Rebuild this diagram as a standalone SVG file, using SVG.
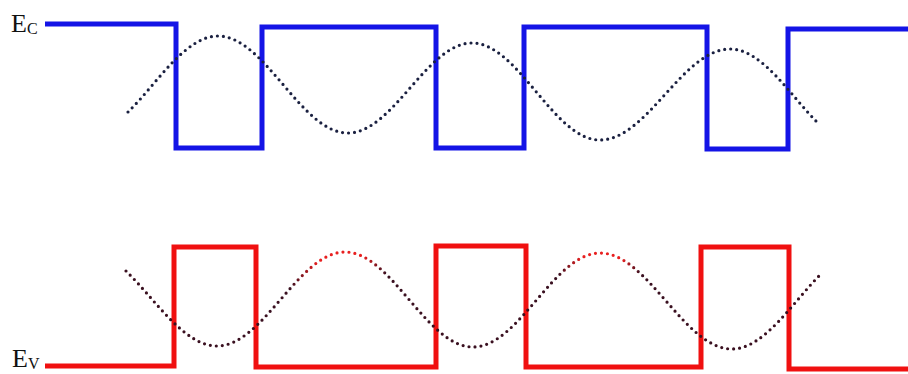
<svg xmlns="http://www.w3.org/2000/svg" width="908" height="374" viewBox="0 0 908 374">
  <style>
    .band { fill: none; stroke-width: 5; stroke-linejoin: miter; stroke-linecap: butt; }
    .cb { stroke: #1414e6; }
    .vb { stroke: #f01010; }
    .dots { fill: none; stroke-width: 3.2; stroke-linecap: round; stroke-dasharray: 0 6; }
    .lbl { font-family: "Liberation Serif", "Times New Roman", serif; fill: #111; }
  </style>
  <defs>
    <linearGradient id="redmix" gradientUnits="userSpaceOnUse" x1="0" y1="0" x2="908" y2="0">
      <stop offset="0" stop-color="#3a1020"/>
      <stop offset="0.32" stop-color="#3a1020"/>
      <stop offset="0.35" stop-color="#e82020"/>
      <stop offset="0.40" stop-color="#e82020"/>
      <stop offset="0.425" stop-color="#3a1020"/>
      <stop offset="0.615" stop-color="#3a1020"/>
      <stop offset="0.64" stop-color="#e82020"/>
      <stop offset="0.685" stop-color="#e82020"/>
      <stop offset="0.705" stop-color="#3a1020"/>
      <stop offset="1" stop-color="#3a1020"/>
    </linearGradient>
  </defs>
  <rect width="908" height="374" fill="#ffffff"/>

  <g id="conduction-band">
    <path class="band cb" d="M45,24 H176 V148 H262 V27 H436 V148 H524 V27 H707 V149 H788 V29 H908"/>
  </g>
  <g id="conduction-wave">
    <path class="dots" stroke="#1a2040" d="M128,112 C156,85 185,36 218,36 C265.2,36 300.8,133 348,133 C393,133 427,43 472,43 C518.5,43 553.5,140 600,140 C647.2,140 682.8,49 730,49 C763,49 791,97 819,124"/>
  </g>

  <g id="valence-band">
    <path class="band vb" d="M45,366 H174 V247 H256 V367 H436 V246 H526 V367 H701 V247 H789 V369 H908"/>
  </g>
  <g id="valence-wave">
    <path class="dots" stroke="url(#redmix)" d="M126,271 C155,299 184,346 217,346 C263.5,346 298.5,252 345,252 C391.5,252 426.5,347 473,347 C519.2,347 553.8,253 600,253 C648,253 684,349 732,349 C765,349 794,300 822,273"/>
  </g>

  <g id="label-ec">
    <text class="lbl" x="11" y="32" font-size="26">E<tspan font-size="16" dy="2">C</tspan></text>
  </g>
  <g id="label-ev">
    <text class="lbl" x="12" y="367" font-size="26">E<tspan font-size="16" dy="2">V</tspan></text>
  </g>
</svg>
